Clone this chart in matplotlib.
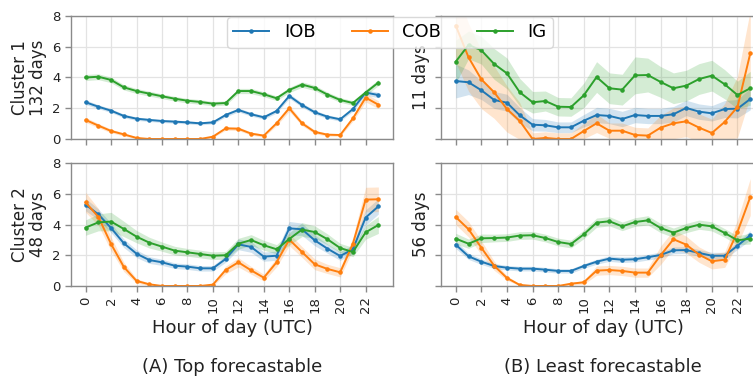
import numpy as np
import matplotlib
matplotlib.use("Agg")
import matplotlib.pyplot as plt

hours = list(range(24))
xticks = list(range(0, 24, 2))
yticks = [0, 2, 4, 6, 8]
series_names = ["IOB", "COB", "IG"]
colors = ["#1f77b4", "#ff7f0e", "#2ca02c"]

# ---- Panel A1: Top forecastable, Cluster 1 (132 days)
a1_iob = [2.39, 2.10, 1.84, 1.50, 1.32, 1.24, 1.17, 1.13, 1.08, 1.02, 1.08, 1.56,
          1.89, 1.61, 1.41, 1.82, 2.80, 2.21, 1.74, 1.45, 1.28, 1.95, 3.02, 2.86]
a1_cob = [1.24, 0.87, 0.52, 0.30, 0.07, 0.0, 0.0, 0.0, 0.0, 0.0, 0.15, 0.69,
          0.67, 0.35, 0.22, 1.02, 2.00, 1.02, 0.46, 0.28, 0.26, 1.34, 2.69, 2.23]
a1_ig = [4.00, 4.05, 3.84, 3.36, 3.12, 2.95, 2.78, 2.62, 2.49, 2.41, 2.30, 2.34,
         3.12, 3.12, 2.91, 2.65, 3.19, 3.54, 3.32, 2.89, 2.54, 2.34, 3.02, 3.67]
a1_iob_err = [0.15, 0.13, 0.12, 0.12, 0.11, 0.10, 0.10, 0.10, 0.10, 0.10, 0.10, 0.12,
              0.13, 0.12, 0.12, 0.13, 0.16, 0.14, 0.13, 0.12, 0.12, 0.14, 0.18, 0.17]
a1_cob_err = [0.16, 0.14, 0.12, 0.10, 0.06, 0.03, 0.02, 0.02, 0.02, 0.03, 0.06, 0.12,
              0.12, 0.10, 0.09, 0.15, 0.20, 0.15, 0.12, 0.09, 0.09, 0.18, 0.28, 0.25]
a1_ig_err = [0.20, 0.19, 0.18, 0.17, 0.16, 0.16, 0.15, 0.15, 0.15, 0.15, 0.14, 0.14,
             0.17, 0.17, 0.16, 0.15, 0.17, 0.18, 0.17, 0.16, 0.15, 0.15, 0.18, 0.20]

# ---- Panel B1: Least forecastable, Cluster 1 (11 days)
b1_iob = [3.77, 3.69, 3.17, 2.54, 2.36, 1.54, 0.93, 0.89, 0.76, 0.76, 1.19, 1.56,
          1.50, 1.30, 1.56, 1.50, 1.50, 1.61, 2.02, 1.78, 1.67, 1.95, 1.97, 2.60]
b1_cob = [7.38, 5.31, 3.88, 3.04, 1.95, 1.17, 0.0, 0.07, 0.0, 0.0, 0.52, 1.02,
          0.54, 0.54, 0.26, 0.22, 0.74, 1.02, 1.15, 0.74, 0.39, 1.11, 2.08, 5.57]
b1_ig = [5.03, 6.12, 5.77, 4.88, 4.27, 3.04, 2.39, 2.47, 2.10, 2.08, 2.84, 4.03,
         3.30, 3.21, 4.14, 4.16, 3.71, 3.30, 3.47, 3.90, 4.12, 3.56, 2.86, 3.30]
b1_iob_err = [1.10, 0.80, 0.60, 0.55, 0.55, 0.50, 0.40, 0.38, 0.35, 0.35, 0.40, 0.50,
              0.50, 0.50, 0.50, 0.50, 0.50, 0.50, 0.50, 0.50, 0.50, 0.55, 0.60, 0.70]
b1_cob_err = [2.40, 2.20, 1.90, 1.70, 1.50, 1.20, 0.40, 0.40, 0.40, 0.40, 0.50, 0.60,
              0.50, 0.50, 0.50, 0.50, 0.80, 1.00, 1.00, 0.90, 0.90, 1.20, 2.00, 2.80]
b1_ig_err = [1.40, 0.90, 0.90, 1.00, 1.00, 0.90, 0.70, 0.65, 0.60, 0.60, 0.80, 1.00,
             1.00, 1.00, 1.20, 1.10, 1.00, 1.00, 1.00, 1.00, 1.00, 0.95, 0.90, 1.10]

# ---- Panel A2: Top forecastable, Cluster 2 (48 days)
a2_iob = [5.29, 4.66, 3.77, 2.78, 2.10, 1.69, 1.54, 1.32, 1.26, 1.15, 1.15, 1.76,
          2.71, 2.54, 1.91, 1.97, 3.75, 3.69, 2.97, 2.43, 1.95, 2.39, 4.45, 5.18]
a2_cob = [5.44, 4.49, 2.73, 1.24, 0.33, 0.11, 0.0, 0.0, 0.0, 0.0, 0.09, 1.04,
          1.54, 1.02, 0.54, 1.54, 3.02, 2.21, 1.41, 1.11, 0.89, 2.75, 5.62, 5.64]
a2_ig = [3.80, 4.14, 4.19, 3.71, 3.21, 2.82, 2.56, 2.30, 2.19, 2.08, 1.97, 2.00,
         2.75, 2.99, 2.65, 2.39, 3.06, 3.67, 3.51, 3.04, 2.47, 2.21, 3.49, 3.97]
a2_iob_err = [0.40, 0.35, 0.30, 0.28, 0.25, 0.22, 0.20, 0.18, 0.18, 0.18, 0.18, 0.22,
              0.35, 0.35, 0.30, 0.30, 0.45, 0.40, 0.35, 0.30, 0.28, 0.30, 0.50, 0.50]
a2_cob_err = [0.65, 0.55, 0.45, 0.30, 0.15, 0.08, 0.03, 0.03, 0.03, 0.03, 0.08, 0.25,
              0.30, 0.25, 0.22, 0.30, 0.40, 0.35, 0.35, 0.30, 0.30, 0.40, 0.80, 0.80]
a2_ig_err = [0.50, 0.55, 0.60, 0.50, 0.40, 0.35, 0.30, 0.28, 0.25, 0.25, 0.25, 0.25,
             0.35, 0.35, 0.32, 0.30, 0.40, 0.45, 0.40, 0.35, 0.30, 0.30, 0.45, 0.55]

# ---- Panel B2: Least forecastable, Cluster 2 (56 days)
b2_iob = [2.69, 1.93, 1.58, 1.30, 1.19, 1.13, 1.13, 1.06, 0.98, 0.98, 1.30, 1.58,
          1.78, 1.71, 1.74, 1.87, 2.02, 2.32, 2.34, 2.15, 1.97, 1.97, 2.62, 3.30]
b2_cob = [4.49, 3.69, 2.49, 1.32, 0.52, 0.07, 0.0, 0.0, 0.0, 0.15, 0.24, 1.00,
          1.04, 0.98, 0.87, 0.87, 2.00, 3.04, 2.69, 2.04, 1.61, 1.71, 3.51, 5.79]
b2_ig = [3.08, 2.75, 3.10, 3.12, 3.15, 3.28, 3.30, 3.12, 2.86, 2.73, 3.36, 4.12,
         4.21, 3.88, 4.16, 4.27, 3.77, 3.47, 3.77, 3.99, 3.88, 3.45, 2.97, 3.08]
b2_iob_err = [0.25, 0.20, 0.18, 0.16, 0.15, 0.15, 0.15, 0.15, 0.14, 0.14, 0.15, 0.16,
              0.18, 0.18, 0.18, 0.18, 0.20, 0.22, 0.22, 0.22, 0.22, 0.22, 0.25, 0.30]
b2_cob_err = [0.50, 0.50, 0.45, 0.30, 0.15, 0.05, 0.02, 0.02, 0.03, 0.08, 0.12, 0.30,
              0.30, 0.30, 0.30, 0.30, 0.60, 0.60, 0.55, 0.50, 0.50, 0.50, 0.80, 1.20]
b2_ig_err = [0.35, 0.30, 0.28, 0.25, 0.25, 0.25, 0.25, 0.25, 0.25, 0.25, 0.28, 0.30,
             0.30, 0.28, 0.28, 0.30, 0.30, 0.30, 0.30, 0.30, 0.30, 0.28, 0.30, 0.35]

ylabels = ["Cluster 1\n132 days", "11 days", "Cluster 2\n48 days", "56 days"]
col_titles = ["(A) Top forecastable", "(B) Least forecastable"]
xlabel = "Hour of day (UTC)"

panels = [
    ([a1_iob, a1_cob, a1_ig], [a1_iob_err, a1_cob_err, a1_ig_err]),
    ([b1_iob, b1_cob, b1_ig], [b1_iob_err, b1_cob_err, b1_ig_err]),
    ([a2_iob, a2_cob, a2_ig], [a2_iob_err, a2_cob_err, a2_ig_err]),
    ([b2_iob, b2_cob, b2_ig], [b2_iob_err, b2_cob_err, b2_ig_err]),
]

W, H = 753, 378
fig = plt.figure(figsize=(W / 100, H / 100), dpi=100)

def px_axes(x0, y0, x1, y1):
    return fig.add_axes([x0 / W, 1 - y1 / H, (x1 - x0) / W, (y1 - y0) / H])

boxes = [(71, 16, 393, 139), (441, 16, 765, 139),
         (71, 163, 393, 286), (441, 163, 765, 286)]

axes = []
handles = []
for i, (box, (vals, errs)) in enumerate(zip(boxes, panels)):
    ax = px_axes(*box)
    axes.append(ax)
    ax.set_facecolor("white")
    ax.grid(True, color="#e3e3e3", linewidth=0.9)
    ax.set_axisbelow(True)
    for name, v, e, c in zip(series_names, vals, errs, colors):
        v = np.array(v)
        e = np.array(e)
        ax.fill_between(hours, v - e, v + e, color=c, alpha=0.2, linewidth=0)
        ln, = ax.plot(hours, v, color=c, marker=".", markersize=4.5,
                      linewidth=1.4, label=name)
        if i == 0:
            handles.append(ln)
    ax.set_ylim(0, 8)
    ax.set_xlim(-1.15, 24.15)
    ax.set_yticks(yticks)
    ax.set_xticks(xticks)
    for s in ax.spines.values():
        s.set_color("#8a8a8a")
        s.set_linewidth(1.0)
    ax.tick_params(axis="both", colors="#8a8a8a", labelcolor="#222222",
                   labelsize=9.5, length=4, width=1.0)
    ax.set_ylabel(ylabels[i], fontsize=12, color="#222222", linespacing=1.0)
    if i % 2 == 1:
        ax.tick_params(axis="y", labelleft=False)
    if i < 2:
        ax.tick_params(axis="x", labelbottom=False)
    else:
        ax.set_xticklabels([str(t) for t in xticks], rotation=90)
        ax.set_xlabel(xlabel, fontsize=13, color="#222222", labelpad=4)

fig.text(232 / W, 1 - 367 / H, col_titles[0], ha="center", va="center",
         fontsize=13, color="#222222")
fig.text(603 / W, 1 - 367 / H, col_titles[1], ha="center", va="center",
         fontsize=13, color="#222222")

leg = fig.legend(handles, series_names, loc="upper center", ncol=3,
                 bbox_to_anchor=(390 / W, 1 - 8 / H), fontsize=13,
                 frameon=True, framealpha=0.8, borderpad=0.35,
                 handlelength=2.0, columnspacing=2.0, handletextpad=0.8)
leg.get_frame().set_edgecolor("#d0d0d0")

fig.savefig("out.png", dpi=100)
